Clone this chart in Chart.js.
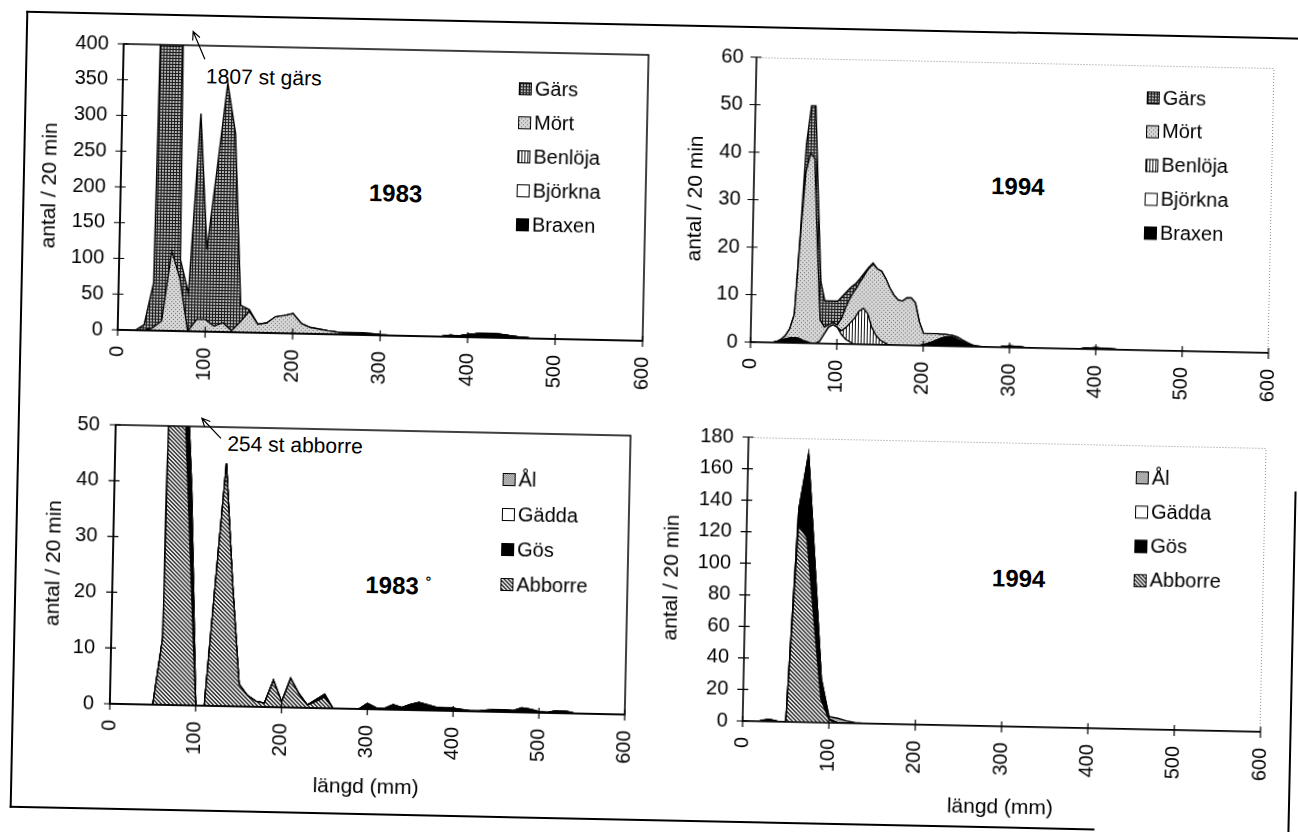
<!DOCTYPE html>
<html>
<head>
<meta charset="utf-8">
<script src="https://cdn.jsdelivr.net/npm/chart.js@4.4.0/dist/chart.umd.min.js"></script>
<style>
html, body { margin: 0; padding: 0; background: #fff; overflow: hidden; }
#page { position: absolute; left: 0; top: 0; width: 1298px; height: 832px;
        transform: rotate(1.2deg); transform-origin: 649px 416px;
        font-family: 'Liberation Sans', Arial, Helvetica, sans-serif; color: #000; }
#page canvas { position: absolute; }
.rule { position: absolute; background: #000; }
.note { position: absolute; white-space: nowrap; font-size: 21px; line-height: 1; transform: translateY(-50%); }
.year { position: absolute; white-space: nowrap; font-weight: bold; font-size: 24px; line-height: 1; transform: translate(-50%, -50%); }
#arrows { position: absolute; left: 0; top: 0; }
</style>
</head>
<body>
<div id="page">
  <div class="rule" style="left:18px;top:24px;width:1290px;height:2px"></div>
  <div class="rule" style="left:18px;top:24px;width:2px;height:797px"></div>
  <div class="rule" style="left:18px;top:819px;width:1085px;height:2px"></div>
  <div class="rule" style="left:1296px;top:478px;width:2px;height:360px"></div>

  <div class="note" style="left:199px;top:85px">1807 st gärs</div>
  <div class="year" style="left:391px;top:199px">1983</div>
  <div class="year" style="left:1013px;top:179px">1994</div>
  <div class="note" style="left:228px;top:452px">254 st abborre</div>
  <div class="note" style="left:369px;top:591px;font-weight:bold;font-size:24px">1983 <span style="font-size:14px;vertical-align:8px">°</span></div>
  <div class="year" style="left:1022px;top:571px">1994</div>
  <svg id="arrows" width="1298" height="832"></svg>
</div>

<script>
const FONT = "'Liberation Sans', Arial, Helvetica, sans-serif";
const PAD_TOP = 32;
const PAD_RIGHT = 30;

// length classes (mm)
const lengths10 = [0,10,20,30,40,50,60,70,80,90,100,110,120,130,140,150,160,170,180,190,
  200,210,220,230,240,250,260,270,280,290,300,310,320,330,340,350,360,370,380,390,
  400,410,420,430,440,450,460,470,480,490,500,510,520,530,540,550,560,570,580,590,600];
const lengths94 = [0,10,20,25,30,35,40,45,50,55,60,65,70,75,80,85,90,95,100,105,110,115,120,125,
  130,135,140,145,150,155,160,165,170,175,180,185,190,195,200,205,210,215,220,225,230,235,
  240,245,250,255,260,270,280,290,300,310,320,330,340,350,360,370,380,390,400,410,420,430,
  440,450,460,470,480,490,500,510,520,530,540,550,560,570,580,590,600];

// 1983, vitfisk (antal / 20 min)
const gars83 = [0,0,0,8,63,1807,1500,27,53,288,98,222,335,276,23,2,
  0,0,0,0,0,0,0,0,0,0,0,0,0,0,0,0,0,0,0,0,0,0,0,0,0,0,0,0,0,0,0,0,0,0,0,0,0,0,0,0,0,0,0,0,0];
const mort83 = [0,0,0,0,4,14,112,73,0,17,17,8,13,2,15,30,12,14,23,25,28,14,9,7,5,3,2,1.5,1,0.8,0.5,0.3,
  0,0,0,0,0,0,0,0,0,0,0,0,0,0,0,0,0,0,0,0,0,0,0,0,0,0,0,0,0];
const benloja83 = [0,0,0,0,0,0,0,0,0,0,0,0,0,0,0,0,0,0,0,0,0,0,0,0,0,0,0,0,0,0,
  0,0,0,0,0,0,0,0,0,0,0,0,0,0,0,0,0,0,0,0,0,0,0,0,0,0,0,0,0,0,0];
const bjorkna83 = [0,0,0,0,0,0,0,0,0,0,0,0,0,0,0,0,0,0,0,0,0,0,0,0,0,0,0,0,0,0,
  0,0,0,0,0,0,0,0,0,0,0,0,0,0,0,0,0,0,0,0,0,0,0,0,0,0,0,0,0,0,0];
const braxen83 = [0,0,0,0,0,0,0,0,0,0,0,0,0,0,0,0,0,0,0,0,0,0,0,0,0,
  0.5,1,1.5,2,1.5,0.5,0.2,0,0,0,0,0,0.5,2,1.5,3.5,5,6,5.5,4.5,3,1.5,0.7,0.3,
  0,0,0,0,0,0,0,0,0,0,0,0];

// 1994, vitfisk
const gars94 = [0,0,0,0,0,0,0,0,0,1,6,10,11,10,8,5.5,5,4.5,5,4.5,3,2,1.2,0.8,0.5,0.2,0.2,
  0,0,0,0,0,0,0,0,0,0,0,0,0,0,0,0,0,0,0,0,0,0,0,0,0,0,0,0,0,0,0,0,0,0,0,0,0,0,0,0,0,0,0,0,0,0,0,0,0,0,0,0,0,0];
const mort94 = [0,0,0,0,0,0.2,0.7,2,4.9,21,35.4,39.7,39,21,4.5,1.5,0.5,0.5,0.5,2.7,4.5,5.5,6,6,6.9,
  9.5,13.4,14,14.5,13.5,12,10.5,9.5,9.3,10,10,9,5,2.4,2.1,1.8,1.4,0.9,0.6,0.4,0.4,0.5,0.4,0.3,0.2,0.1,
  0,0,0,0,0,0,0,0,0,0,0,0,0,0,0,0,0,0,0,0,0,0,0,0,0,0,0,0,0,0,0,0,0,0];
const benloja94 = [0,0,0,0,0,0,0,0,0,0,0,0,0,0,0,0,0,0,0,0.8,2.5,4,5.5,7,7.6,6.5,3.6,2,1,0.5,
  0,0,0,0,0,0,0,0,0,0,0,0,0,0,0,0,0,0,0,0,0,0,0,0,0,0,0,0,0,0,0,0,0,0,0,0,0,0,0,0,0,0,0,0,0,0,0,0,0,0,0,0,0,0,0];
const bjorkna94 = [0,0,0,0,0,0,0,0,0,0,0,0,0,0,0.5,2,3.5,4,3.5,2,1,0.5,
  0,0,0,0,0,0,0,0,0,0,0,0,0,0,0,0,0,0,0,0,0,0,0,0,0,0,0,0,0,0,0,0,0,0,0,0,0,0,0,0,0,
  0,0,0,0,0,0,0,0,0,0,0,0,0,0,0,0,0,0,0,0,0,0];
const braxen94 = [0,0,0,0,0.2,0.5,0.8,1,1.1,1,0.6,0.3,
  0,0,0,0,0,0,0,0,0,0,0,0,0,0,0,0,0,0,0,0,0,0,0,0,0,0,
  0.2,0.5,0.8,1.2,1.6,1.9,2,1.8,1.4,1,0.6,0.3,0.1,
  0,0,0.1,0.3,0.2,0,0,0,0,0,0,0,0.2,0.3,0.2,0.1,
  0,0,0,0,0,0,0,0,0,0,0,0,0,0,0,0,0,0];

// 1983, rovfisk
const abborre83 = [0,0,0,0,0,0,12,254,55,27,0,0,22,43.5,22,4,2,1,0.7,4.8,1,5.2,2.5,0.5,1.2,2,0,
  0,0,0,0,0,0,0,0,0,0,0,0,0,0,0,0,0,0,0,0,0,0,0,0,0,0,0,0,0,0,0,0,0,0];
const gos83 = [0,0,0,0,0,0,0,0,10,12,0,0,0,0,0,0,0,0,0,0,0,0,0,0,
  0.3,0.5,0,0,0,0,1,0.3,0.2,0.9,0.4,1,1.4,1,0.6,0.5,0.5,0.3,0.1,0.1,0.3,0.4,0.4,0.3,0.8,0.6,0.2,0.1,0.4,0.4,0.1,
  0,0,0,0,0,0];
const gadda83 = [0,0,0,0,0,0,0,0,0,0,0,0,0,0,0,0,0,0,0,0,0,0,0,0,0,0,0,0,0,0,
  0,0,0,0,0,0,0,0,0,0,0,0,0,0,0,0,0,0,0,0,0,0,0,0,0,0,0,0,0,0,0];
const al83 = [0,0,0,0,0,0,0,0,0,0,0,0,0,0,0,0,0,0,0,0,0,0,0,0,0,0,0,0,0,0,
  0,0,0,0,0,0,0,0,0,0,0,0,0,0,0,0,0,0,0,0,0,0,0,0,0,0,0,0,0,0,0];

// 1994, rovfisk
const abborre94 = [0,0,0,0,0,0,125,117,66,15,2,
  0,0,0,0,0,0,0,0,0,0,0,0,0,0,0,0,0,0,0,0,0,0,0,0,0,0,0,0,0,0,0,0,0,0,0,0,0,0,0,0,0,0,0,0,0,0,0,0,0,0];
const gos94 = [0,0,0.3,1.5,0.3,0,10,53,34,13,0.5,
  0,0,0,0,0,0,0,0,0,0,0,0,0,0,0,0,0,0,0,0,0,0,0,0,0,0,0,0,0,0,0,0,0,0,0,0,0,0,0,0,0,0,0,0,0,0,0,0,0,0];
const gadda94 = [0,0,0,0,0,0,0,0,0,0,0,0,0,0,0,0,0,0,0,0,0,0,0,0,0,0,0,0,0,0,
  0,0,0,0,0,0,0,0,0,0,0,0,0,0,0,0,0,0,0,0,0,0,0,0,0,0,0,0,0,0,0];
const al94 = [0,0,0,0,0,0,0,0,0,0,1.5,3,1.5,0.5,0.2,
  0,0,0,0,0,0,0,0,0,0,0,0,0,0,0,0,0,0,0,0,0,0,0,0,0,0,0,0,0,0,0,0,0,0,0,0,0,0,0,0,0,0,0,0,0,0];

// fill patterns, like the old printer hatches
function tile(w, h, paint) {
  const c = document.createElement('canvas');
  c.width = w; c.height = h;
  const g = c.getContext('2d');
  paint(g);
  return g.createPattern(c, 'repeat');
}
const crossHatch = tile(3, 3, g => {
  g.fillStyle = '#b4b4b4'; g.fillRect(0, 0, 3, 3);
  g.fillStyle = '#1a1a1a'; g.fillRect(0, 0, 3, 1); g.fillRect(0, 0, 1, 3);
});
const lightDots = tile(4, 4, g => {
  g.fillStyle = '#d6d6d6'; g.fillRect(0, 0, 4, 4);
  g.fillStyle = '#707070'; g.fillRect(0, 0, 1, 1); g.fillRect(2, 2, 1, 1);
});
const vStripes = tile(3, 1, g => {
  g.fillStyle = '#fff'; g.fillRect(0, 0, 3, 1);
  g.fillStyle = '#111'; g.fillRect(0, 0, 1, 1);
});
const diagStripes = tile(4, 4, g => {
  g.fillStyle = '#e6e6e6'; g.fillRect(0, 0, 4, 4);
  g.fillStyle = '#3a3a3a';
  for (let i = 0; i < 4; i++) { g.fillRect(i, i, 1, 1); g.fillRect((i + 1) % 4, i, 1, 1); }
});
const greyDots = tile(2, 2, g => {
  g.fillStyle = '#d0d0d0'; g.fillRect(0, 0, 2, 2);
  g.fillStyle = '#858585'; g.fillRect(0, 0, 1, 1); g.fillRect(1, 1, 1, 1);
});

const paper = {
  id: 'paper',
  afterDatasetsDraw(chart) {
    const o = chart.options.plugins.paper;
    const ctx = chart.ctx, a = chart.chartArea;
    const x = chart.scales.x, y = chart.scales.y;
    ctx.save();
    if (o.solid) {
      ctx.strokeStyle = '#000'; ctx.lineWidth = 1.5;
      ctx.strokeRect(a.left, a.top, a.right - a.left, a.bottom - a.top);
    } else {
      ctx.strokeStyle = '#8c8c8c'; ctx.lineWidth = 1; ctx.setLineDash([1, 2]);
      ctx.beginPath();
      ctx.moveTo(a.left, a.top + 0.5); ctx.lineTo(a.right - 0.5, a.top + 0.5); ctx.lineTo(a.right - 0.5, a.bottom);
      ctx.stroke();
      ctx.setLineDash([]);
    }
    ctx.strokeStyle = '#000'; ctx.lineWidth = 1.6;
    ctx.beginPath();
    ctx.moveTo(a.left, a.top); ctx.lineTo(a.left, a.bottom); ctx.lineTo(a.right, a.bottom);
    ctx.stroke();
    ctx.lineWidth = 1.2;
    ctx.beginPath();
    y.ticks.forEach(t => { const p = y.getPixelForValue(t.value); ctx.moveTo(a.left - 6, p); ctx.lineTo(a.left + 5, p); });
    x.ticks.forEach(t => { const p = x.getPixelForValue(t.value); ctx.moveTo(p, a.bottom - 5); ctx.lineTo(p, a.bottom + 6); });
    ctx.stroke();

    // legend, top series first
    ctx.font = '20px ' + FONT;
    ctx.textBaseline = 'middle';
    chart.data.datasets.slice().reverse().forEach((d, k) => {
      const cy = o.legendY + k * o.legendGap;
      ctx.fillStyle = d.backgroundColor;
      ctx.fillRect(o.legendX, cy - 6, 13, 13);
      ctx.strokeStyle = '#000'; ctx.lineWidth = 1;
      ctx.strokeRect(o.legendX + 0.5, cy - 5.5, 12, 12);
      ctx.fillStyle = '#000';
      ctx.fillText(d.label, o.legendX + 16, cy + 1);
    });
    ctx.restore();
  }
};

function makeChart(spec) {
  const page = document.getElementById('page');
  const canvas = document.createElement('canvas');
  const left = spec.area.left - spec.yWidth;
  const top = spec.area.top - PAD_TOP;
  const w = spec.area.right - spec.area.left + spec.yWidth + PAD_RIGHT;
  const h = spec.area.bottom - spec.area.top + PAD_TOP + spec.xHeight;
  canvas.width = w; canvas.height = h;
  canvas.style.left = left + 'px'; canvas.style.top = top + 'px';
  canvas.style.width = w + 'px'; canvas.style.height = h + 'px';
  page.appendChild(canvas);

  const datasets = spec.names.map((name, i) => ({
    label: name,
    data: spec.lengths.map((len, k) => ({ x: len, y: spec.values[i][k] })),
    backgroundColor: spec.fills[i],
    borderColor: '#000',
    borderWidth: 1.4,
    pointRadius: 0,
    tension: 0,
    fill: i === 0 ? 'origin' : '-1'
  }));

  new Chart(canvas, {
    type: 'line',
    data: { datasets: datasets },
    options: {
      responsive: false,
      animation: false,
      devicePixelRatio: 1,
      layout: { padding: { top: PAD_TOP, right: PAD_RIGHT, left: 0, bottom: 0 } },
      plugins: {
        legend: { display: false },
        tooltip: { enabled: false },
        paper: {
          solid: spec.solid,
          legendX: spec.legend[0] - left,
          legendY: spec.legend[1] - top,
          legendGap: spec.legend[2]
        }
      },
      scales: {
        x: {
          type: 'linear', min: 0, max: 600,
          grid: { display: false, drawTicks: false },
          border: { display: false },
          ticks: { stepSize: 100, minRotation: 90, maxRotation: 90, autoSkip: false, padding: 16,
                   color: '#000', font: { family: FONT, size: 20 } },
          title: { display: spec.xTitle, text: 'längd (mm)', color: '#000',
                   font: { family: FONT, size: 21 }, padding: { top: 0, bottom: 0 } },
          afterFit: s => { s.height = spec.xHeight; }
        },
        y: {
          type: 'linear', stacked: true, min: 0, max: spec.yMax,
          grid: { display: false, drawTicks: false },
          border: { display: false },
          ticks: { stepSize: spec.yStep, padding: spec.yPad, color: '#000',
                   font: { family: FONT, size: 20 } },
          title: { display: true, text: 'antal / 20 min', color: '#000',
                   font: { family: FONT, size: 21 }, padding: { top: 0, bottom: 0 } },
          afterFit: s => { s.width = spec.yWidth; }
        }
      }
    },
    plugins: [paper]
  });
}

makeChart({
  area: { left: 116, top: 55, right: 651, bottom: 341 }, yWidth: 83, xHeight: 50, yPad: 15,
  yMax: 400, yStep: 50, solid: true, xTitle: false,
  lengths: lengths10,
  names: ['Braxen', 'Björkna', 'Benlöja', 'Mört', 'Gärs'],
  values: [braxen83, bjorkna83, benloja83, mort83, gars83],
  fills: ['#000', '#fff', vStripes, lightDots, crossHatch],
  legend: [512, 91, 34]
});
makeChart({
  area: { left: 749, top: 55, right: 1277, bottom: 340 }, yWidth: 70, xHeight: 50, yPad: 13,
  yMax: 60, yStep: 10, solid: false, xTitle: false,
  lengths: lengths94,
  names: ['Braxen', 'Björkna', 'Benlöja', 'Mört', 'Gärs'],
  values: [braxen94, bjorkna94, benloja94, mort94, gars94],
  fills: ['#000', '#fff', vStripes, lightDots, crossHatch],
  legend: [1140, 87, 33.8]
});
makeChart({
  area: { left: 116, top: 436, right: 641, bottom: 715 }, yWidth: 71, xHeight: 91, yPad: 16,
  yMax: 50, yStep: 10, solid: true, xTitle: true,
  lengths: lengths10,
  names: ['Abborre', 'Gös', 'Gädda', 'Ål'],
  values: [abborre83, gos83, gadda83, al83],
  fills: [diagStripes, '#000', '#fff', greyDots],
  legend: [504, 482, 35]
});
makeChart({
  area: { left: 749, top: 435, right: 1277, bottom: 719 }, yWidth: 86, xHeight: 94, yPad: 15,
  yMax: 180, yStep: 20, solid: false, xTitle: true,
  lengths: lengths10,
  names: ['Abborre', 'Gös', 'Gädda', 'Ål'],
  values: [abborre94, gos94, gadda94, al94],
  fills: [diagStripes, '#000', '#fff', greyDots],
  legend: [1137, 467, 34.3]
});

// hand-drawn pointers to the clipped peaks
function arrow(x1, y1, x2, y2) {
  const svg = document.getElementById('arrows');
  const dx = x2 - x1, dy = y2 - y1, len = Math.hypot(dx, dy);
  const ux = dx / len, uy = dy / len;
  const wing = (ang) => {
    const c = Math.cos(ang), s = Math.sin(ang);
    return [x2 - 9 * (ux * c - uy * s), y2 - 9 * (ux * s + uy * c)];
  };
  const a = wing(0.45), b = wing(-0.45);
  const p = document.createElementNS('http://www.w3.org/2000/svg', 'path');
  p.setAttribute('d', `M${x1},${y1} L${x2},${y2} M${a[0]},${a[1]} L${x2},${y2} L${b[0]},${b[1]}`);
  p.setAttribute('stroke', '#000');
  p.setAttribute('stroke-width', '1.2');
  p.setAttribute('fill', 'none');
  svg.appendChild(p);
}
arrow(197.5, 68.6, 185.2, 41.2);
arrow(221.5, 447.4, 202, 427.6);
</script>
</body>
</html>
